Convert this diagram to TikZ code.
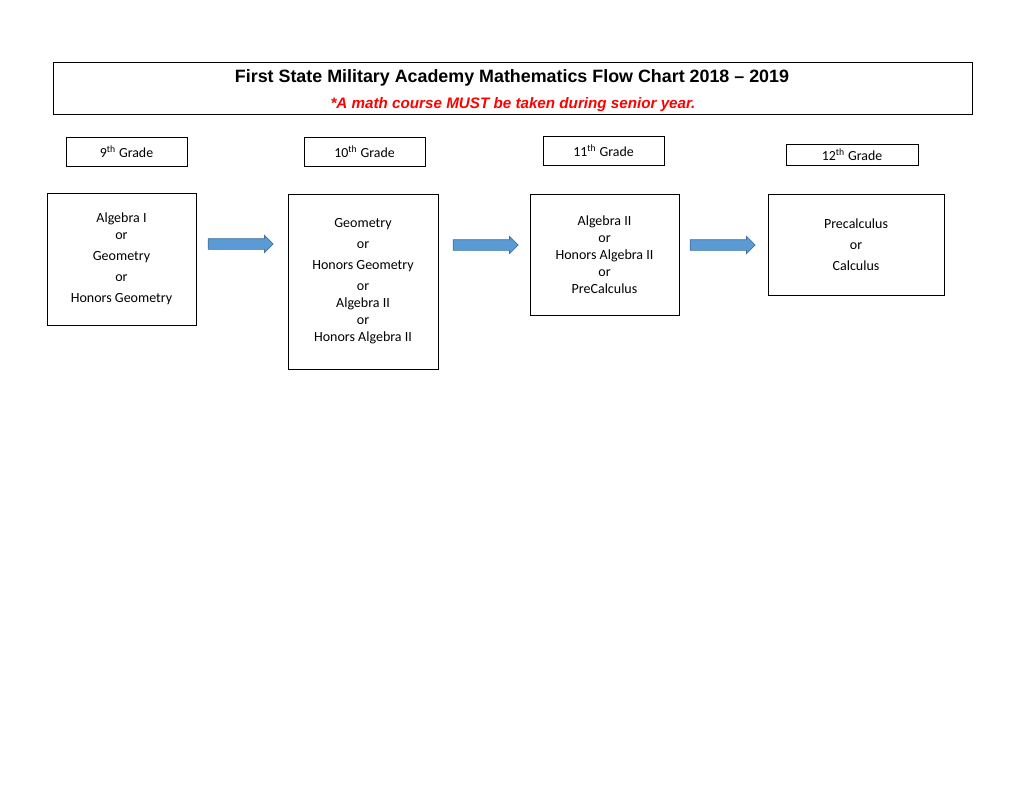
\documentclass[tikz,border=0pt]{standalone}
\usepackage{fontspec}
\setmainfont{Carlito}
\newfontfamily\headfont{Liberation Sans}
\usetikzlibrary{shapes.arrows}
\definecolor{arrowfill}{HTML}{5B9BD5}
\definecolor{arrowline}{HTML}{41719C}
\definecolor{notered}{HTML}{FF0000}
\begin{document}
\begin{tikzpicture}[x=0.75pt, y=-0.75pt,
    grade/.style={rectangle, draw, line width=0.6pt, inner sep=0pt, minimum width=90.75pt, minimum height=21.75pt, font=\fontsize{10.4}{12}\selectfont},
    course/.style={rectangle, draw, line width=0.6pt, inner sep=0pt, align=center, font=\fontsize{10.5}{12.75}\selectfont},
    flow/.style={single arrow, draw=arrowline, fill=arrowfill, line width=0.5pt, inner xsep=0pt, inner ysep=3.75pt, minimum height=48.75pt, single arrow head extend=2.5pt}
  ]
    \useasboundingbox (0,0) rectangle (1020,788);
    % heading
    \node[rectangle, draw, line width=0.6pt, minimum width=689.25pt, minimum height=39pt] (head) at (512.5,88) {};
    \node[font=\headfont\bfseries\fontsize{13.4}{15}\selectfont] (title) at (512,78) {First State Military Academy Mathematics Flow Chart 2018 \textendash{} 2019};
    \node[font=\headfont\bfseries\itshape\fontsize{11.4}{13}\selectfont, text=notered] (note) at (513,105) {*A math course MUST be taken during senior year.};
    % grades
    \node[grade] (g9) at (126.5,151.5) {9\textsuperscript{th} Grade};
    \node[grade] (g10) at (364.5,151.5) {10\textsuperscript{th} Grade};
    \node[grade] (g11) at (603.5,150.5) {11\textsuperscript{th} Grade};
    \node[grade, minimum width=99pt, minimum height=15.75pt] (g12) at (852,154.5) {12\textsuperscript{th} Grade};
    % courses
    \node[course, minimum width=111.75pt, minimum height=99pt] (c9) at (121.5,259) {Algebra I\\ or\\[3pt] Geometry\\[3pt] or\\[3pt] Honors Geometry};
    \node[course, minimum width=112.5pt, minimum height=131.25pt] (c10) at (363,281.5) {Geometry\\[3pt] or\\[3pt] Honors Geometry\\[3pt] or\\ Algebra II\\ or\\ Honors Algebra II};
    \node[course, minimum width=111.75pt, minimum height=90.75pt] (c11) at (604.5,254.5) {Algebra II\\ or\\ Honors Algebra II\\ or\\ PreCalculus};
    \node[course, minimum width=132pt, minimum height=75.75pt] (c12) at (856,244.5) {Precalculus\\[3pt] or\\[3pt] Calculus};
    % arrows
    \node[flow] (a1) at (238,244) {};
    \node[flow] (a2) at (483,245) {};
    \node[flow] (a3) at (720,245) {};
  \end{tikzpicture}
\end{document}
